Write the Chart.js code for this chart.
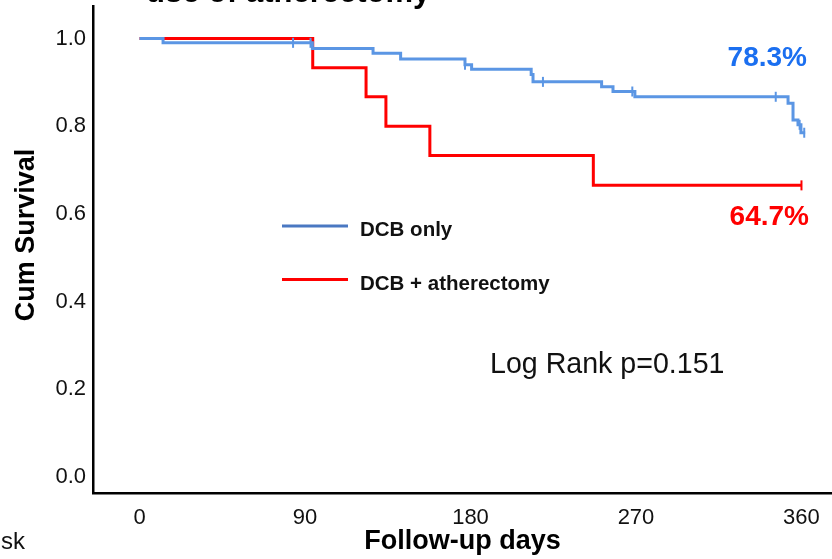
<!DOCTYPE html>
<html>
<head>
<meta charset="utf-8">
<script src="https://cdn.jsdelivr.net/npm/chart.js@4.4.1/dist/chart.umd.min.js"></script>
<style>
  body { margin: 0; background: #fff; }
  canvas { display: block; }
</style>
</head>
<body>
<canvas id="kmChart" width="832" height="559"></canvas>
<script>
// Kaplan-Meier curves (days, cumulative survival)
const seriesNames = ['DCB only', 'DCB + atherectomy'];

const dcbDays = [0, 12.8, 94, 127, 142, 177, 180.6, 213, 214, 251.3, 257.5, 269.4, 352.7, 355.4, 358.1, 359.7, 362];
const dcbSurv = [1.0, 0.990, 0.977, 0.966, 0.953, 0.940, 0.930, 0.918, 0.901, 0.890, 0.879, 0.867, 0.852, 0.814, 0.803, 0.785, 0.785];
const dcbCensored = [83.5, 93, 177, 219.4, 268, 346, 359, 361.5];

const athDays = [0, 94.2, 123.2, 134, 157.9, 246.8, 360];
const athSurv = [1.0, 0.933, 0.867, 0.800, 0.733, 0.665, 0.665];
const athCensored = [360];

const xTicks = [0, 90, 180, 270, 360];
const yTicks = [0, 0.2, 0.4, 0.6, 0.8, 1.0];

const dcbFinal = '78.3%';
const athFinal = '64.7%';
const logRank = 'Log Rank p=0.151';

const blue = '#5b96e4';
const red = '#ff0000';
const FONT = "'Liberation Sans', Arial, sans-serif";

// survival value at time t (step function), used to put censor ticks on the curve
function survAt(days, surv, t) {
    let v = surv[0];
    for (let i = 0; i < days.length; i++) {
        if (days[i] <= t) v = surv[i];
    }
    return v;
}

function toPoints(days, surv) {
    return days.map((d, i) => ({x: d, y: surv[i]}));
}

function censorPoints(times, days, surv) {
    return times.map(t => ({x: t, y: survAt(days, surv, t)}));
}

// no extra room around the axes, the plot runs to the right edge
function noPadding(scale) {
    scale.paddingLeft = 0;
    scale.paddingRight = 0;
    scale.paddingTop = 0;
    scale.paddingBottom = 0;
    scale.getPadding = () => ({left: 0, right: 0, top: 0, bottom: 0});
}

// draws the texts that sit inside the plot: legend, end values, p value, cut titles
const textPlugin = {
    id: 'kmTexts',
    afterDraw(chart) {
        const ctx = chart.ctx;
        ctx.save();

        // title of the panel, cut by the top edge
        ctx.fillStyle = '#000';
        ctx.font = 'bold 31px ' + FONT;
        ctx.textAlign = 'left';
        ctx.textBaseline = 'alphabetic';
        ctx.fillText('use of atherectomy', 146, 2);

        // y axis title
        ctx.save();
        ctx.translate(33.5, 235);
        ctx.rotate(-Math.PI / 2);
        ctx.textAlign = 'center';
        ctx.font = 'bold 27px ' + FONT;
        ctx.fillText('Cum Survival', 0, 0);
        ctx.restore();

        // number at risk label, cut by the left edge
        ctx.font = '24px ' + FONT;
        ctx.textAlign = 'right';
        ctx.fillStyle = '#111';
        ctx.fillText('Number at risk', 25, 549);

        // legend
        const legendColors = ['#4a78c2', red];
        const legendY = [226, 279.5];
        for (let i = 0; i < seriesNames.length; i++) {
            ctx.strokeStyle = legendColors[i];
            ctx.lineWidth = 3;
            ctx.beginPath();
            ctx.moveTo(282, legendY[i]);
            ctx.lineTo(348, legendY[i]);
            ctx.stroke();
            ctx.fillStyle = '#111';
            ctx.font = 'bold 20.5px ' + FONT;
            ctx.textAlign = 'left';
            ctx.fillText(seriesNames[i], 360, legendY[i] + 10);
        }

        // end of curve percentages
        ctx.font = 'bold 28px ' + FONT;
        ctx.textAlign = 'right';
        ctx.fillStyle = '#1b6ff0';
        ctx.fillText(dcbFinal, 807, 66);
        ctx.fillStyle = red;
        ctx.fillText(athFinal, 809, 225);

        ctx.font = '28.6px ' + FONT;
        ctx.textAlign = 'left';
        ctx.fillStyle = '#111';
        ctx.fillText(logRank, 490, 373);

        ctx.restore();
    }
};

const data_dict = {
    datasets: [
        {
            label: seriesNames[0],
            data: toPoints(dcbDays, dcbSurv),
            borderColor: blue,
            borderWidth: 3,
            stepped: 'before',
            pointRadius: 0,
            fill: false
        },
        {
            label: seriesNames[0] + ' censored',
            data: censorPoints(dcbCensored, dcbDays, dcbSurv),
            showLine: false,
            pointStyle: 'line',
            rotation: 90,
            pointRadius: 5,
            pointBorderWidth: 2,
            borderColor: blue,
            backgroundColor: blue
        },
        {
            label: seriesNames[1],
            data: toPoints(athDays, athSurv),
            borderColor: red,
            borderWidth: 3,
            stepped: 'before',
            pointRadius: 0,
            fill: false
        },
        {
            label: seriesNames[1] + ' censored',
            data: censorPoints(athCensored, athDays, athSurv),
            showLine: false,
            pointStyle: 'line',
            rotation: 90,
            pointRadius: 5,
            pointBorderWidth: 2,
            borderColor: red,
            backgroundColor: red
        }
    ]
};

const config = {
    type: 'line',
    data: data_dict,
    options: {
        responsive: false,
        animation: false,
        devicePixelRatio: 1,
        layout: {autoPadding: false, padding: {top: 6, left: 0, right: 0, bottom: 0}},
        plugins: {
            legend: {display: false},
            tooltip: {enabled: false}
        },
        scales: {
            x: {
                type: 'linear',
                min: -25.3,
                max: 376.6,
                grid: {display: false, drawTicks: false},
                border: {display: true, color: '#000', width: 2.5},
                ticks: {
                    color: '#111',
                    padding: 12,
                    font: {family: FONT, size: 22}
                },
                afterBuildTicks: (scale) => {
                    scale.ticks = xTicks.map(v => ({value: v}));
                },
                afterFit: (scale) => {
                    scale.height = 66;
                    noPadding(scale);
                },
                title: {
                    display: true,
                    text: 'Follow-up days',
                    color: '#000',
                    font: {family: FONT, size: 27, weight: 'bold'},
                    padding: {top: 0, bottom: 1}
                }
            },
            y: {
                min: -0.0365,
                max: 1.074,
                grid: {display: false, drawTicks: false},
                border: {display: true, color: '#000', width: 2.5},
                ticks: {
                    color: '#111',
                    padding: 7,
                    font: {family: FONT, size: 22},
                    callback: (v) => v.toFixed(1)
                },
                afterBuildTicks: (scale) => {
                    scale.ticks = yTicks.map(v => ({value: v}));
                },
                afterFit: (scale) => {
                    scale.width = 93;
                    noPadding(scale);
                }
            }
        }
    },
    plugins: [textPlugin]
};

var myChart = new Chart(document.getElementById('kmChart'), config);
</script>
</body>
</html>
